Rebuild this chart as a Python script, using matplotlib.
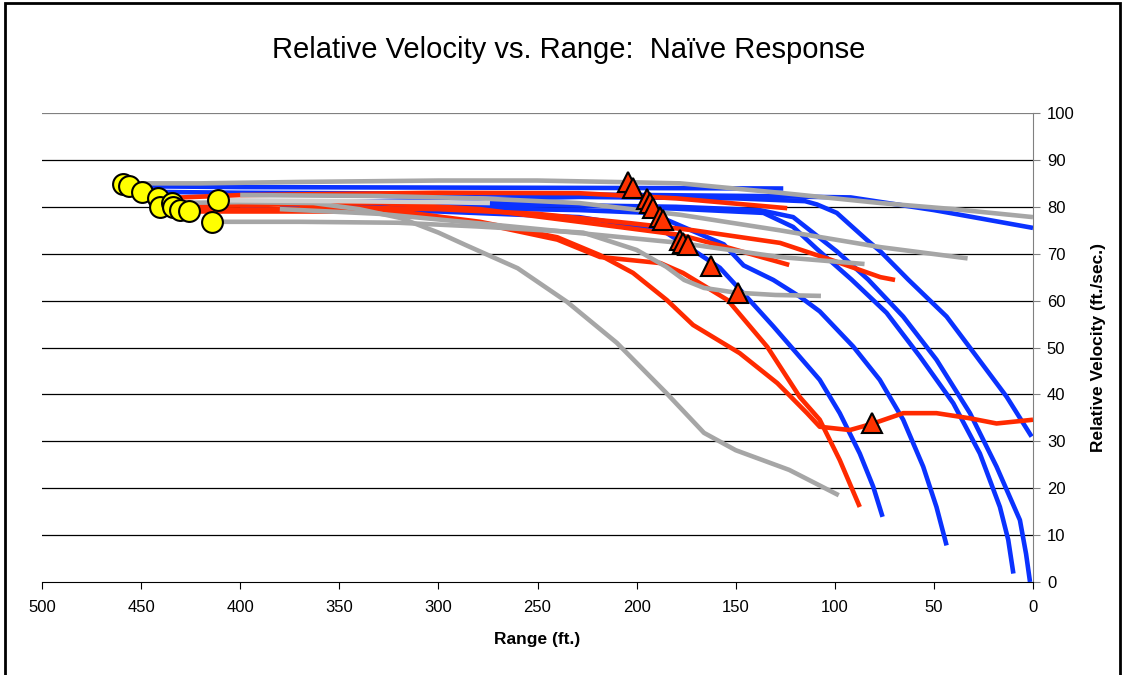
import matplotlib
matplotlib.use("Agg")
import matplotlib.pyplot as plt
from matplotlib.patches import Rectangle

plt.rcParams['font.family'] = ['Liberation Sans', 'DejaVu Sans']

# series (range in ft, relative velocity in ft/sec)
blue_a_x = [456, 400, 300, 200, 126]
blue_a_y = [84.4, 84.2, 84.1, 84.0, 83.9]
blue_b_x = [450, 400, 300, 193, 140, 92, 50, 0]
blue_b_y = [83.2, 83.0, 82.8, 82.5, 82.3, 82.0, 79.3, 75.5]
blue_c_x = [440, 400, 300, 229, 150, 115, 109, 99, 84, 77, 63, 43.6, 28.5, 13.3, 0.7]
blue_c_y = [80.0, 80.5, 81.5, 82.1, 81.8, 81.2, 80.5, 78.7, 73.0, 70.5, 64.5, 56.6, 48.1, 39.5, 31.0]
blue_d_x = [380, 300, 229, 180, 138, 121, 99, 83.2, 65.5, 48.7, 31.8, 18.4, 6.6, 3.5, 1.5]
blue_d_y = [80.5, 80.5, 80.3, 80.0, 79.3, 77.8, 70.5, 64.5, 56.6, 47.4, 36.0, 24.6, 13.2, 6.0, 0.0]
blue_e_x = [274, 229, 180, 136, 121, 109, 91.6, 73.9, 57.1, 40.2, 26.8, 16.7, 12.5, 9.9]
blue_e_y = [80.8, 80.3, 79.6, 78.7, 75.7, 71.0, 64.5, 57.4, 48.1, 38.1, 27.4, 16.0, 9.0, 1.8]
blue_f_x = [380, 300, 229, 193, 156, 146, 131, 117.5, 107.6, 90.7, 77.3, 65.5, 55.4, 48.7, 43.6]
blue_f_y = [79.6, 79.8, 79.3, 78.7, 72.0, 67.5, 64.4, 60.8, 57.7, 50.2, 43.1, 34.6, 24.6, 16.0, 7.8]
blue_g_x = [400, 300, 229, 187, 173, 158, 146, 131, 107.6, 97.5, 87.4, 80.6, 75.9]
blue_g_y = [79.5, 79.0, 77.8, 75.0, 71.2, 67.0, 61.5, 54.5, 43.1, 36.0, 27.4, 20.3, 13.9]

red_a_x = [441, 400, 300, 229, 180, 124]
red_a_y = [81.8, 82.5, 83.0, 82.9, 81.8, 79.7]
red_b_x = [434, 380, 329, 279, 229, 178, 153, 123]
red_b_y = [80.0, 80.5, 80.8, 79.5, 76.8, 74.0, 71.2, 67.6]
red_c_x = [370, 300, 250, 203, 171.5, 127.6, 102, 77, 69.6]
red_c_y = [80.0, 79.5, 78.5, 76.5, 75.0, 72.3, 68.7, 65.0, 64.4]
red_d_x = [430, 370, 329, 279, 240, 218.5, 201.8, 184.7, 171.5, 148, 129, 114, 107.6, 92.4,
           80.6, 65.5, 48.7, 31.8, 18.4, 0]
red_d_y = [79.3, 79.5, 79.5, 76.8, 73.5, 69.7, 65.9, 60.1, 54.8, 48.8, 42.4, 36.0, 33.1, 32.4,
           33.8, 36.0, 36.0, 34.9, 33.8, 34.6]
red_e_x = [426, 370, 329, 279, 240, 218.5, 188, 176.6, 154, 134, 117.6, 107.6, 97.5, 87.4]
red_e_y = [79.0, 79.0, 79.0, 76.5, 73.0, 69.3, 68.0, 65.9, 60.1, 50.1, 39.4, 34.6, 26.0, 16.0]

gray_a_x = [459, 420, 370, 300, 250, 200, 178, 128, 77, 40, 0]
gray_a_y = [85.0, 85.0, 85.3, 85.6, 85.6, 85.2, 85.0, 83.0, 80.8, 79.5, 77.8]
gray_b_x = [400, 330, 280, 229, 178, 128, 77, 33]
gray_b_y = [82.5, 82.3, 81.8, 80.8, 78.3, 75.0, 71.4, 69.0]
gray_c_x = [380, 330, 280, 229, 178, 128, 85]
gray_c_y = [79.5, 78.5, 76.5, 74.4, 72.3, 69.3, 67.8]
gray_d_x = [414, 370, 320, 280, 227, 200, 185, 176, 166, 150, 130, 107]
gray_d_y = [76.8, 76.8, 76.6, 75.8, 74.5, 70.8, 67.2, 64.4, 62.7, 61.7, 61.2, 61.0]
gray_e_x = [435, 400, 363, 340, 319, 300, 286, 260, 235, 210, 185, 166, 150, 123, 98]
gray_e_y = [80.8, 81.0, 80.8, 79.5, 77.6, 74.5, 71.8, 66.9, 59.7, 51.0, 40.3, 31.8, 28.1, 23.9, 18.5]
light_x = [411, 350, 300, 274]
light_y = [81.4, 81.2, 81.0, 80.8]

start_x = [459.3, 456, 449.7, 441.3, 440.5, 434.6, 433.9, 430.4, 425.7, 411, 414.4]
start_y = [84.9, 84.4, 83.2, 81.8, 80.0, 80.8, 80.0, 79.3, 79.0, 81.4, 76.8]
resp_x = [204.5, 201.7, 195, 193, 191.7, 188.2, 186.6, 178, 176.6, 174, 162.6, 148.8, 81]
resp_y = [85.2, 84.0, 81.6, 80.8, 79.7, 77.9, 77.2, 72.9, 72.3, 71.9, 67.4, 61.7, 33.9]

BLUE = '#0a32ff'
RED = '#ff2a00'
GRAY = '#a6a6a6'
LW = 3.3

fig = plt.figure(figsize=(11.25, 6.75), dpi=100)
ax = fig.add_axes([42 / 1125, 93 / 675, 991 / 1125, 469 / 675])

for xs, ys in [(blue_a_x, blue_a_y), (blue_b_x, blue_b_y), (blue_c_x, blue_c_y),
               (blue_d_x, blue_d_y), (blue_e_x, blue_e_y), (blue_f_x, blue_f_y),
               (blue_g_x, blue_g_y)]:
    ax.plot(xs, ys, color=BLUE, lw=LW, solid_capstyle='butt', solid_joinstyle='round', zorder=3)
for xs, ys in [(red_a_x, red_a_y), (red_b_x, red_b_y), (red_c_x, red_c_y),
               (red_d_x, red_d_y), (red_e_x, red_e_y)]:
    ax.plot(xs, ys, color=RED, lw=LW, solid_capstyle='butt', solid_joinstyle='round', zorder=3)
for xs, ys in [(gray_a_x, gray_a_y), (gray_b_x, gray_b_y), (gray_c_x, gray_c_y),
               (gray_d_x, gray_d_y), (gray_e_x, gray_e_y)]:
    ax.plot(xs, ys, color=GRAY, lw=LW, solid_capstyle='butt', solid_joinstyle='round', zorder=3)
ax.plot(light_x, light_y, color='#cfcfcf', lw=LW, solid_capstyle='butt', zorder=3)

ax.plot(start_x, start_y, 'o', ms=15, mfc='#ffff00', mec='black', mew=1.5, zorder=5)
ax.plot(resp_x, resp_y, '^', ms=14, mfc='#ff3300', mec='black', mew=1.5, zorder=5)

ax.set_xlim(500, 0)
ax.set_ylim(0, 100)
ax.set_xticks(range(0, 501, 50))
ax.set_yticks(range(0, 101, 10))
for v in range(10, 100, 10):
    ax.axhline(v, color='black', lw=0.9, zorder=1)
ax.axhline(100, color='#808080', lw=1.6, zorder=1)

ax.spines['left'].set_visible(False)
ax.spines['top'].set_visible(False)
ax.spines['right'].set_color('#808080')
ax.spines['bottom'].set_color('black')
ax.yaxis.tick_right()
ax.yaxis.set_label_position('right')
ax.tick_params(axis='x', direction='out', length=5, pad=8, labelsize=12)
ax.tick_params(axis='y', direction='out', length=5, pad=5, labelsize=12, color='#808080')

ax.set_xlabel('Range (ft.)', fontsize=12.5, fontweight='bold', labelpad=12)
ax.set_ylabel('Relative Velocity (ft./sec.)', fontsize=12.5, fontweight='bold', labelpad=12)
fig.text(569 / 1125, 1 - 50 / 675, 'Relative Velocity vs. Range:  Naïve Response',
         ha='center', va='center', fontsize=21)

fig.patches.append(Rectangle((5 / 1125, -0.05), 1115 / 1125, 1.05 - 3 / 675,
                             transform=fig.transFigure, fill=False, ec='black', lw=2))

fig.savefig('out.png', dpi=100)
